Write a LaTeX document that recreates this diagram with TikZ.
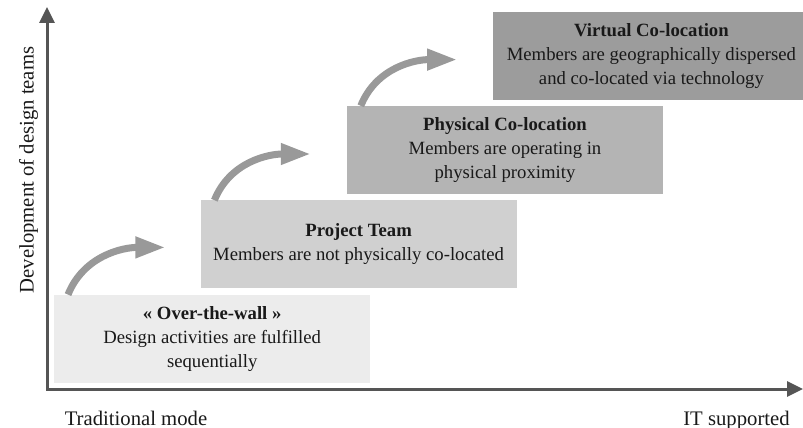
\documentclass[tikz,border=0pt]{standalone}
\usepackage{fontspec}
\setmainfont{Liberation Serif}
\usetikzlibrary{positioning,arrows.meta}

\definecolor{axisgray}{HTML}{555555}
\definecolor{hopgray}{HTML}{999999}
\definecolor{stageA}{HTML}{ECECEC}
\definecolor{stageB}{HTML}{D0D0D0}
\definecolor{stageC}{HTML}{B4B4B4}
\definecolor{stageD}{HTML}{9C9C9C}

\begin{document}
\begin{tikzpicture}[
        x=1pt, y=-1pt,
        stage/.style={align=center, minimum width=316pt, minimum height=88pt, inner sep=0pt, anchor=south west, text=black!90, font=\fontsize{18.7}{24}\selectfont},
        axis/.style={color=axisgray, line width=3pt, line cap=rect, -{Triangle[width=15pt,length=16pt]}},
        axislabel/.style={anchor=base, text=black!90, font=\fontsize{20.7}{24}\selectfont},
        hop/.style={color=hopgray, line width=7pt, -{Triangle[width=20pt,length=30pt]}}
      ]
      \useasboundingbox (0,0) rectangle (803,428);

      % axes
      \coordinate (O) at (47,389);
      \coordinate (Ytop) at (47,7);
      \coordinate (Xend) at (803,389);
      \draw[axis] (O) -- (Ytop);
      \draw[axis] (O) -- (Xend);

      \node (Dev) [axislabel, rotate=90] at (33.5,170) {Development of design teams};
      \node (Trad) [axislabel] at (136,425) {Traditional mode};
      \node (ITs) [axislabel] at (736.5,425) {IT supported};

      % stages
      \node (OW) [stage, fill=stageA] at (54,383) {\textbf{« Over-the-wall »}\\Design activities are fulfilled\\sequentially};
      \node (PT) [stage, fill=stageB, above right=6pt and -170pt of OW] {\textbf{Project Team}\\Members are not physically co-located};
      \node (PC) [stage, fill=stageC, above right=6pt and -170pt of PT] {\textbf{Physical Co-location}\\Members are operating in\\physical proximity};
      \node (VC) [stage, fill=stageD, above right=6pt and -170pt of PC] {\textbf{Virtual Co-location}\\Members are geographically dispersed\\and co-located via technology};

      \path[hop] ([xshift=14pt]OW.north west) edge[out=68, in=180] ([xshift=-35pt, yshift=-3pt]PT.west);
      \path[hop] ([xshift=14pt]PT.north west) edge[out=68, in=180] ([xshift=-36pt, yshift=-4pt]PC.west);
      \path[hop] ([xshift=14pt]PC.north west) edge[out=68, in=180] ([xshift=-36pt, yshift=-4pt]VC.west);

\end{tikzpicture}
\end{document}
